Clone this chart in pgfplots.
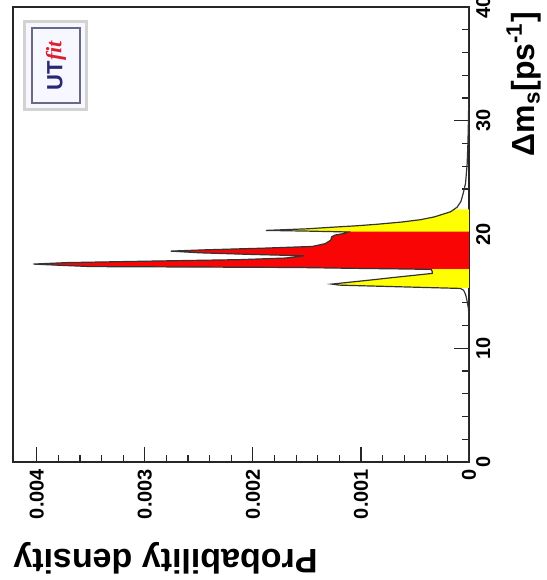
\documentclass[border=0pt]{standalone}
\usepackage{fontspec}
\setmainfont{Liberation Sans}
\newfontfamily\logoserif{Liberation Serif}
\usepackage{pgfplots}
\pgfplotsset{compat=1.18}
\usepackage{pgfplotstable}
\definecolor{utblue}{RGB}{40,40,115}
\definecolor{utred}{RGB}{220,30,45}
\definecolor{fillred}{RGB}{250,5,5}
\definecolor{fillyellow}{RGB}{255,255,0}

\pgfplotstableread{
dm dens
0 0
12 0
13 0.000002
13.5 0.000005
14.09 0.000017
14.5 0.000025
14.8 0.000035
15.1 0.00005
15.26 0.00008
15.3 0.00024
15.38 0.00055
15.47 0.0009
15.55 0.0012
15.64 0.00127
15.8 0.00111
16.0 0.00091
16.2 0.00072
16.4 0.00052
16.58 0.00034
16.75 0.00034
16.93 0.00035
16.97 0.0006
17.03 0.0011
17.1 0.0016
17.14 0.0025
17.18 0.0035
17.3 0.0038
17.4 0.00403
17.53 0.00372
17.66 0.00295
17.79 0.00212
17.93 0.0017
18.05 0.00158
18.13 0.00153
18.25 0.00202
18.39 0.00249
18.54 0.00276
18.65 0.00245
18.8 0.0019
18.95 0.00145
19.2 0.00133
19.5 0.00128
19.8 0.00127
19.95 0.00124
20.1 0.00115
20.22 0.00112
20.25 0.00125
20.3 0.0015
20.36 0.00188
20.5 0.0015
20.62 0.0013
20.76 0.00105
20.9 0.00085
21.1 0.00062
21.3 0.00045
21.55 0.00032
22.0 0.00017
22.2 0.00014
22.4 0.00011
22.9 0.000075
23.6 0.000054
24.5 0.000032
26.2 0.000017
28 0.00001
30 0.000005
32 0.000002
34 0
40 0
}\curve

\begin{document}
\begin{tikzpicture}[rotate=90, transform shape]
\useasboundingbox (0,0) rectangle (290pt,273.5pt);
\begin{axis}[
  at={(59pt,39pt)}, anchor=south west,
  scale only axis, width=227.5pt, height=228pt,
  xmin=0, xmax=40, ymin=0, ymax=0.00422,
  xtick={0,10,20,30,40}, ytick={0,0.001,0.002,0.003,0.004},
  minor x tick num=4, minor y tick num=4,
  tick align=inside, xtick pos=bottom, ytick pos=left,
  major tick length=7.5pt, minor tick length=3.5pt,
  scaled y ticks=false,
  yticklabel style={/pgf/number format/fixed, /pgf/number format/precision=3},
  /pgf/number format/assume math mode=true,
  ticklabel style={font=\fontsize{10}{12}\selectfont\bfseries},
  axis line style={black!85, line width=0.6pt},
  every tick/.style={black!85, line width=0.6pt},
  xlabel={Δm\textsubscript{s}[ps\textsuperscript{-1}]},
  ylabel={Probability density},
  xlabel style={at={(rel axis cs:0.99,-0.12)}, anchor=east, inner sep=0pt, font=\fontsize{16}{18}\selectfont\bfseries},
  ylabel style={at={(rel axis cs:-0.211,1)}, anchor=east, inner sep=0pt, font=\fontsize{17}{19}\selectfont\bfseries},
  clip=true,
]
\addplot[fill=fillyellow, draw=none, restrict x to domain=15.3:22.2] table[x=dm, y=dens] {\curve} \closedcycle;
\addplot[fill=fillred, draw=none, restrict x to domain=16.97:20.25] table[x=dm, y=dens] {\curve} \closedcycle;
\addplot[black!80, line width=0.6pt] table[x=dm, y=dens] {\curve};
\node[draw=gray!35, line width=1.6pt, fill=blue!3, minimum width=44pt, minimum height=31pt, inner sep=0pt] at (rel axis cs:0.871,0.906) {};
\node[draw={rgb,255:red,105;green,105;blue,135}, line width=0.8pt, fill=blue!3, minimum width=37.5pt, minimum height=24pt, inner sep=0pt] at (rel axis cs:0.871,0.906) {\fontsize{11}{12}\selectfont\bfseries\color{utblue}UT\raisebox{0.5pt}{\logoserif\itshape\color{utred}\fontsize{11}{12}\selectfont fit}};
\end{axis}
\end{tikzpicture}
\end{document}
